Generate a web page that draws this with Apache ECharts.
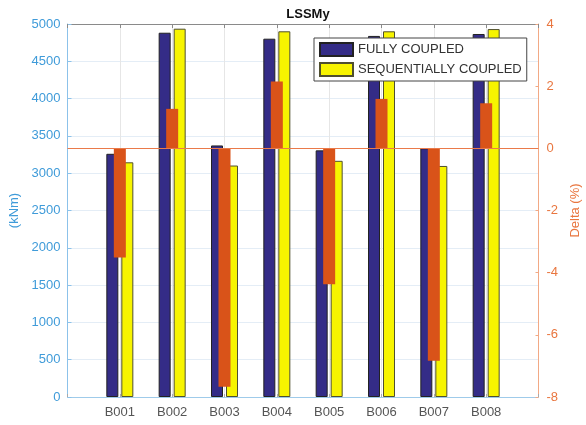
<!DOCTYPE html>
<html>
<head>
<meta charset="utf-8">
<script src="https://cdn.jsdelivr.net/npm/echarts@6/dist/echarts.min.js"></script>
<style>
  html, body { margin: 0; padding: 0; background: #fff; }
  #chart { width: 586px; height: 425px; }
</style>
</head>
<body>
<div id="chart"></div>
<script>
// Blade section moments LSSMy: fully vs sequentially coupled runs, plus relative difference
const categories = ['B001', 'B002', 'B003', 'B004', 'B005', 'B006', 'B007', 'B008'];
const fullyCoupled = [3260, 4883, 3372, 4803, 3306, 4840, 3334, 4866];
const sequentiallyCoupled = [3146, 4937, 3103, 4902, 3166, 4902, 3097, 4932];
const deltaPct = [-3.51, 1.27, -7.67, 2.15, -4.37, 1.59, -6.83, 1.45];
const leftTicks = { min: 0, max: 5000, interval: 500 };
const rightTicks = { min: -8, max: 4, interval: 2 };

const FONT = '"Liberation Sans", Arial, Helvetica, sans-serif';
const LEFT_COLOR = '#3f9bd9';
const RIGHT_COLOR = '#e9763f';

// bars sit at x = 1..8 on a 0..9 value axis
const toPoints = arr => arr.map((v, i) => [i + 1, v]);

const chart = echarts.init(document.getElementById('chart'), null, { renderer: 'canvas' });

chart.setOption({
  animation: false,
  backgroundColor: '#ffffff',
  title: {
    text: 'LSSMy',
    left: 303,
    textAlign: 'center',
    top: 3,
    textStyle: { fontFamily: FONT, fontSize: 13, fontWeight: 'bold', color: '#111' }
  },
  legend: {
    data: ['FULLY COUPLED', 'SEQUENTIALLY COUPLED'],
    orient: 'vertical',
    left: 314,
    top: 38,
    icon: 'rect',
    itemWidth: 33,
    itemHeight: 13,
    itemGap: 5,
    padding: [4, 5, 4, 5],
    backgroundColor: '#ffffff',
    borderColor: '#444',
    borderWidth: 1,
    borderRadius: 0,
    textStyle: { fontFamily: FONT, fontSize: 13, color: '#333' }
  },
  grid: { left: 67.5, right: 47.5, top: 24, bottom: 28, outerBoundsMode: 'none', containLabel: false },
  xAxis: [
    {
      type: 'value',
      min: 0, max: 9, interval: 1,
      position: 'bottom',
      axisLine: { show: true, onZero: false, lineStyle: { color: '#9fcbea', width: 1 } },
      axisTick: { show: true, inside: true, length: 3, lineStyle: { color: '#aaa' } },
      axisLabel: {
        margin: 9,
        fontFamily: FONT, fontSize: 13, color: '#555',
        formatter: v => categories[v - 1] || ''
      },
      splitLine: { show: true, lineStyle: { color: '#e6e6e6', width: 1 } }
    },
    {
      type: 'value',
      min: 0, max: 9, interval: 1,
      position: 'top',
      axisLine: { show: true, onZero: false, lineStyle: { color: '#8a8a8a', width: 1 } },
      axisTick: { show: true, inside: true, length: 4, lineStyle: { color: '#8a8a8a' } },
      axisLabel: { show: false },
      splitLine: { show: false }
    }
  ],
  yAxis: [
    {
      type: 'value',
      position: 'left',
      min: leftTicks.min, max: leftTicks.max, interval: leftTicks.interval,
      name: '(kNm)',
      nameLocation: 'middle',
      nameGap: 40,
      nameRotate: 90,
      nameTextStyle: { fontFamily: FONT, fontSize: 13, color: LEFT_COLOR },
      axisLine: { show: true, onZero: false, lineStyle: { color: '#8cc2ea', width: 1 } },
      axisTick: { show: true, inside: true, length: 4, lineStyle: { color: '#8cc2ea' } },
      axisLabel: { margin: 7, fontFamily: FONT, fontSize: 13, color: LEFT_COLOR, formatter: v => String(v) },
      splitLine: { show: true, lineStyle: { color: '#e4edf6', width: 1 } }
    },
    {
      type: 'value',
      position: 'right',
      min: rightTicks.min, max: rightTicks.max, interval: rightTicks.interval,
      name: 'Delta (%)',
      nameLocation: 'middle',
      nameGap: 30,
      nameRotate: 90,
      nameTextStyle: { fontFamily: FONT, fontSize: 13, color: RIGHT_COLOR },
      axisLine: { show: true, onZero: false, lineStyle: { color: '#f2a985', width: 1 } },
      axisTick: { show: true, inside: true, length: 3, lineStyle: { color: '#f2a985' } },
      axisLabel: { margin: 8, fontFamily: FONT, fontSize: 13, color: RIGHT_COLOR },
      splitLine: { show: false }
    }
  ],
  series: [
    {
      name: 'FULLY COUPLED',
      type: 'bar',
      xAxisIndex: 0,
      yAxisIndex: 0,
      barWidth: 12,
      barGap: '25%',
      data: toPoints(fullyCoupled),
      itemStyle: { color: '#342c87', borderColor: '#222', borderWidth: 1 }
    },
    {
      name: 'SEQUENTIALLY COUPLED',
      type: 'bar',
      xAxisIndex: 0,
      yAxisIndex: 0,
      barWidth: 12,
      barGap: '25%',
      data: toPoints(sequentiallyCoupled),
      itemStyle: { color: '#f7f400', borderColor: '#4f4f30', borderWidth: 1 }
    },
    {
      name: 'Delta',
      type: 'bar',
      xAxisIndex: 1,
      yAxisIndex: 1,
      barWidth: 12,
      z: 3,
      data: toPoints(deltaPct),
      itemStyle: { color: '#d95319' },
      markLine: {
        silent: true,
        symbol: ['none', 'none'],
        label: { show: false },
        lineStyle: { color: '#ea7a4a', width: 1, type: 'solid' },
        data: [{ yAxis: 0 }]
      }
    }
  ]
});
</script>
</body>
</html>
